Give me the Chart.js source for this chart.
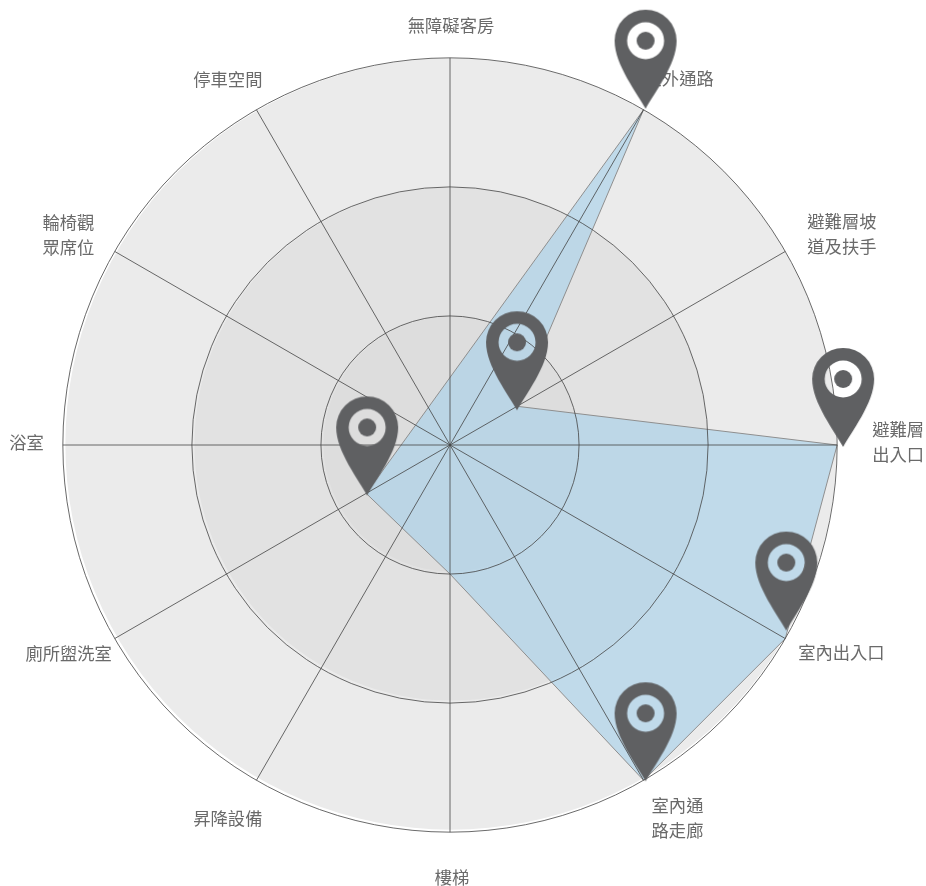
<!DOCTYPE html>
<html><head><meta charset="utf-8">
<style>html,body{margin:0;padding:0;background:#fff;overflow:hidden;width:926px;height:886px}#w{position:absolute;left:-7px;top:-7px;width:948px;height:908px}</style>
<script src="https://cdn.jsdelivr.net/npm/chart.js@4"></script></head>
<body><div id="w"><canvas id="c"></canvas></div>
<script>
const categories=["無障礙客房","室外通路",["避難層坡","道及扶手"],["避難層","出入口"],"室內出入口",["室內通","路走廊"],"樓梯","昇降設備","廁所盥洗室","浴室",["輪椅觀","眾席位"],"停車空間"];
const seriesValues=[null,3,0.6,3,3,3,1,null,0.75,null,null,null];
const markerFlags=[0,1,1,1,1,1,0,0,1,0,0,0];
const labelPadding=[23,24,22,35,16,16,26,22,16,20,20,22];
const labelNudgeX=[1,-11,3,0,-1,0,2,17,11,1,-3,17];
const labelNudgeY=[3,2,19,-3,-7,-1,7,7,-6,-3,19,1];
const pinNudgeX=[0,2,0,6,1,2,0,0,1,0,0,0];
const pinNudgeY=[0,-1,4,2,-8,1,0,0,2,0,0,0];
const ringValues=[3,2,1];
const ringColors=['#ebebeb','#e2e2e2','#dddddd'];
const tickValues=[0,1,2,3];

function pin(){
  const c=document.createElement('canvas');c.width=64;c.height=200;
  const x=c.getContext('2d');x.fillStyle='#5f6062';
  const p=new Path2D();
  p.moveTo(32,100);
  p.bezierCurveTo(24,85,1,56,1,32);
  p.arc(32,32,31,Math.PI,0);
  p.bezierCurveTo(63,56,40,85,32,100);
  p.closePath();
  p.moveTo(50.5,32);p.arc(32,32,18.5,0,Math.PI*2);p.closePath();
  x.fill(p,'evenodd');
  x.beginPath();x.arc(32,32,9,0,Math.PI*2);x.fill();
  return c;
}
const pinImg=pin();
const rings={id:'rings',beforeDraw(ch){
  const s=ch.scales.r,x=ch.ctx;x.save();
  ringValues.forEach((v,i)=>{x.fillStyle=ringColors[i];x.beginPath();x.arc(s.xCenter+1,s.yCenter-1,s.getDistanceFromCenterForValue(v)-1.5,0,Math.PI*2);x.fill();});
  x.restore();
}};
const pins={id:'pins',afterDraw(ch){
  const pts=ch.getDatasetMeta(0).data,x=ch.ctx;
  pts.forEach((el,i)=>{ if(markerFlags[i]) x.drawImage(pinImg,el.x-32+pinNudgeX[i],el.y-100+pinNudgeY[i]); });
}};
new Chart(document.getElementById('c'),{type:'radar',
 data:{labels:categories,datasets:[{data:seriesValues,spanGaps:true,clip:false,borderColor:'#8f8f8f',borderWidth:1,backgroundColor:'rgba(167,209,234,0.62)',
  pointRadius:0,pointHoverRadius:0,tension:0}]},
 options:{responsive:true,maintainAspectRatio:false,animation:false,
  plugins:{legend:{display:false},tooltip:{enabled:false}},
  scales:{r:{min:0,max:3,beginAtZero:true,
    afterBuildTicks(a){a.ticks=tickValues.map(v=>({value:v}));},
    afterFit(s){(s._pointLabelItems||[]).forEach((it,i)=>{it.x+=labelNudgeX[i];it.y+=labelNudgeY[i];});},
    ticks:{display:false},
    grid:{circular:true,color:'#444',lineWidth:0.8,z:1},
    angleLines:{color:'#444',lineWidth:0.8},
    pointLabels:{color:'#6a6a6a',padding:c=>labelPadding[c.index],font:{size:17.3,family:'"Noto Sans CJK TC","Noto Sans"',lineHeight:1.45}}
  }}},plugins:[rings,pins]});
</script></body></html>
